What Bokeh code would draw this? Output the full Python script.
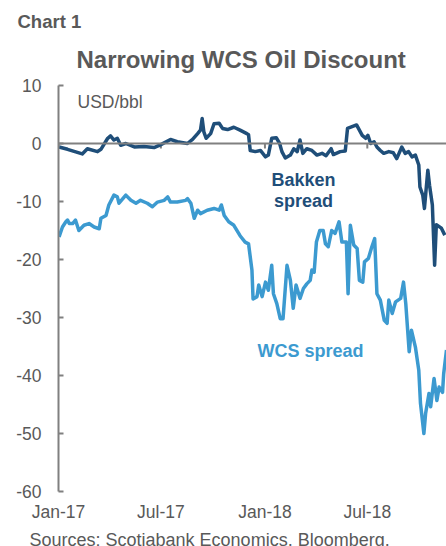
import pandas as pd
from bokeh.plotting import figure
from bokeh.models import (Range1d, FixedTicker, DatetimeTickFormatter, Label, Span,
                          Title, PrintfTickFormatter)
from bokeh.embed import file_html
from bokeh.resources import INLINE

# ---------------- data ----------------
bakken_dates = [
    "2017-01-02", "2017-01-17", "2017-02-12", "2017-02-21", "2017-03-11", "2017-03-17",
    "2017-03-29", "2017-04-03", "2017-04-09", "2017-04-15", "2017-04-21", "2017-04-30",
    "2017-05-15", "2017-06-01", "2017-06-19", "2017-07-01", "2017-07-18", "2017-07-30",
    "2017-08-17", "2017-08-26", "2017-09-04", "2017-09-09", "2017-09-12", "2017-09-15",
    "2017-09-19", "2017-09-27", "2017-10-03", "2017-10-12", "2017-10-18", "2017-10-27",
    "2017-11-07", "2017-11-18", "2017-11-30", "2017-12-03", "2017-12-06", "2017-12-15",
    "2017-12-24", "2018-01-02", "2018-01-07", "2018-01-13", "2018-01-21", "2018-01-27",
    "2018-01-31", "2018-02-06", "2018-02-15", "2018-02-21", "2018-02-27", "2018-03-04",
    "2018-03-09", "2018-03-16", "2018-03-25", "2018-04-03", "2018-04-12", "2018-04-19",
    "2018-04-28", "2018-05-02", "2018-05-14", "2018-05-23", "2018-05-27", "2018-06-04",
    "2018-06-12", "2018-06-17", "2018-06-22", "2018-06-28", "2018-07-02", "2018-07-07",
    "2018-07-13", "2018-07-18", "2018-07-24", "2018-07-30", "2018-08-08", "2018-08-16",
    "2018-08-22", "2018-08-31", "2018-09-06", "2018-09-12", "2018-09-18", "2018-09-24",
    "2018-09-30", "2018-10-02", "2018-10-07", "2018-10-10", "2018-10-16", "2018-10-19",
    "2018-10-24", "2018-10-28", "2018-10-31", "2018-11-09", "2018-11-15",
]
bakken_values = [
    -0.6, -1.0, -1.8, -0.9, -1.4, -1.0,
    0.9, 1.3, 0.6, 0.9, -0.3, 0.0,
    -0.6, -0.5, -0.7, -0.2, 0.7, 0.3,
    0.0, 0.7, 1.7, 2.3, 4.3, 2.0,
    0.9, 1.7, 3.4, 3.5, 2.6, 2.4,
    2.8, 2.3, 1.7, 1.5, -1.2, -1.4,
    -1.2, -2.3, -2.0, 0.9, 1.0, 0.0,
    -1.4, -2.5, -2.0, -0.9, -1.4, 0.6,
    -1.7, -0.9, -1.2, -2.0, -1.7, -2.1,
    -0.9, -1.9, -1.4, -1.3, 2.6, 2.9,
    3.2, 2.3, 1.4, 0.9, 1.4, 0.0,
    0.3, -0.6, -1.2, -1.7, -1.4, -1.6,
    -2.6, -0.6, -1.7, -1.4, -2.3, -2.0,
    -3.7, -7.5, -8.9, -11.2, -4.6, -7.2,
    -10.6, -21.0, -14.0, -14.6, -15.8,
]

wcs_dates = [
    "2017-01-02", "2017-01-08", "2017-01-14", "2017-01-17", "2017-01-20", "2017-01-26",
    "2017-01-31", "2017-02-06", "2017-02-15", "2017-02-24", "2017-03-05", "2017-03-14",
    "2017-03-17", "2017-03-26", "2017-03-31", "2017-04-09", "2017-04-15", "2017-04-18",
    "2017-04-30", "2017-05-09", "2017-05-18", "2017-05-26", "2017-06-07", "2017-06-16",
    "2017-06-25", "2017-07-07", "2017-07-13", "2017-07-18", "2017-07-30", "2017-08-14",
    "2017-08-17", "2017-08-23", "2017-08-29", "2017-09-04", "2017-09-09", "2017-09-21",
    "2017-10-03", "2017-10-12", "2017-10-16", "2017-10-21", "2017-10-29", "2017-11-07",
    "2017-11-18", "2017-11-27", "2017-12-03", "2017-12-09", "2017-12-11", "2017-12-18",
    "2017-12-21", "2017-12-27", "2018-01-02", "2018-01-07", "2018-01-13", "2018-01-16",
    "2018-01-22", "2018-01-28", "2018-02-02", "2018-02-09", "2018-02-15", "2018-02-20",
    "2018-02-25", "2018-03-04", "2018-03-10", "2018-03-16", "2018-03-22", "2018-03-25",
    "2018-03-29", "2018-04-02", "2018-04-08", "2018-04-14", "2018-04-18", "2018-04-23",
    "2018-04-29", "2018-05-05", "2018-05-12", "2018-05-17", "2018-05-25", "2018-05-28",
    "2018-06-01", "2018-06-07", "2018-06-13", "2018-06-17", "2018-06-23", "2018-06-26",
    "2018-07-03", "2018-07-09", "2018-07-14", "2018-07-18", "2018-07-24", "2018-07-31",
    "2018-08-05", "2018-08-08", "2018-08-14", "2018-08-20", "2018-08-29", "2018-09-03",
    "2018-09-07", "2018-09-13", "2018-09-17", "2018-09-24", "2018-09-30", "2018-10-03",
    "2018-10-09", "2018-10-12", "2018-10-18", "2018-10-21", "2018-10-27", "2018-11-01",
    "2018-11-05", "2018-11-11", "2018-11-13", "2018-11-18",
]
wcs_values = [
    -16.1, -14.4, -13.5, -13.2, -13.8, -13.8,
    -13.2, -15.0, -14.1, -13.8, -14.4, -14.7,
    -12.9, -12.4, -10.6, -8.9, -9.2, -10.3,
    -8.9, -9.8, -10.3, -9.8, -10.3, -10.9,
    -10.1, -9.8, -9.2, -10.1, -10.1, -9.8,
    -9.5, -10.3, -12.9, -11.5, -12.1, -11.5,
    -11.2, -11.5, -10.6, -12.4, -13.5, -14.1,
    -15.9, -17.0, -17.3, -21.8, -26.8, -26.4,
    -24.4, -26.4, -23.9, -25.3, -21.0, -25.9,
    -27.6, -30.2, -30.2, -21.0, -23.6, -28.4,
    -24.4, -26.7, -25.0, -24.2, -23.6, -21.8,
    -22.2, -17.0, -15.0, -15.0, -17.3, -17.8,
    -15.0, -15.5, -13.5, -17.0, -17.0, -25.9,
    -14.1, -17.5, -18.1, -23.6, -23.9, -20.4,
    -19.8, -17.8, -16.4, -25.9, -27.0, -30.5,
    -31.0, -27.0, -29.3, -27.3, -26.7, -23.9,
    -27.6, -35.9, -32.2, -35.1, -39.1, -44.8,
    -50.0, -46.6, -43.1, -45.4, -40.5, -44.3,
    -42.0, -42.9, -39.7, -35.6,
]

tick_dates = ["2017-01-01", "2017-07-01", "2018-01-01", "2018-07-01"]
y_ticks = [10, 0, -10, -20, -30, -40, -50, -60]

x_start = "2017-01-01"
x_end = "2018-11-18"

# ---------------- styling ----------------
FONT = "Liberation Sans"
GRAY = "#595959"
AXIS_GRAY = "#808080"
DARK_BLUE = "#1F4E79"
LIGHT_BLUE = "#3C9AD0"

LEFT, RIGHT, TOP, BOTTOM = 58, 0, 85, 70
W = 446
H = 491 + BOTTOM

X0 = pd.Timestamp(x_start).value / 1e6
X1 = pd.Timestamp(x_end).value / 1e6

p = figure(width=W, height=H, x_axis_type="datetime",
           x_range=Range1d(X0, X1), y_range=Range1d(-60, 10),
           output_backend="svg", toolbar_location=None,
           min_border_left=LEFT, min_border_right=RIGHT,
           min_border_top=TOP, min_border_bottom=BOTTOM)
p.xgrid.visible = False
p.ygrid.visible = False
p.outline_line_color = None
p.background_fill_color = "white"
p.border_fill_color = "white"

# canvas-pixel -> data helpers for in-frame annotations
FL, FR, FT, FB = LEFT, W - RIGHT, TOP, H - BOTTOM
def sx(px):
    return X0 + (px - FL) / (FR - FL) * (X1 - X0)
def sy(py):
    return 10 - (py - FT) / (FB - FT) * 70.0

# titles: a thin top spacer (figure title), then "Chart 1", then the main title
p.title.text = " "
p.title.standoff = 0
p.title.text_font = FONT
p.title.text_font_size = "4px"
p.add_layout(Title(text="Narrowing WCS Oil Discount", align="left", offset=76 - FL,
                   standoff=25, text_font=FONT, text_font_size="24px",
                   text_font_style="bold", text_color=GRAY), "above")
p.add_layout(Title(text="Chart 1", align="left", offset=17 - FL, standoff=0,
                   text_font=FONT, text_font_size="18.5px", text_line_height=0.75,
                   text_font_style="bold", text_color=GRAY), "above")

# y axis
ya = p.yaxis[0]
ya.ticker = FixedTicker(ticks=y_ticks)
ya.formatter = PrintfTickFormatter(format="%d")
ya.axis_line_color = AXIS_GRAY
ya.axis_line_width = 2
ya.major_tick_line_color = AXIS_GRAY
ya.major_tick_line_width = 2
ya.major_tick_in = 5
ya.major_tick_out = 0
ya.minor_tick_line_color = None
ya.major_label_standoff = 17
ya.major_label_text_font = FONT
ya.major_label_text_font_size = "17.5px"
ya.major_label_text_color = GRAY

# x axis: labels only at the bottom
tick_ms = [pd.Timestamp(d).value / 1e6 for d in tick_dates]
xa = p.xaxis[0]
xa.ticker = FixedTicker(ticks=tick_ms)
xa.formatter = DatetimeTickFormatter(days="%b-%y", months="%b-%y", years="%b-%y")
xa.axis_line_color = None
xa.major_tick_line_color = None
xa.minor_tick_line_color = None
xa.major_label_standoff = 4
xa.major_label_text_font = FONT
xa.major_label_text_font_size = "17.5px"
xa.major_label_text_color = GRAY

p.add_layout(Title(text="Sources: Scotiabank Economics, Bloomberg.", align="left",
                   offset=29 - FL, standoff=6, text_font=FONT, text_font_size="18px",
                   text_color=GRAY, text_font_style="normal"), "below")

# zero line with ticks
p.add_layout(Span(location=0, dimension="width", line_color=AXIS_GRAY, line_width=2))
p.segment(x0=tick_ms, x1=tick_ms, y0=[0] * len(tick_ms), y1=[-5 / 5.8] * len(tick_ms),
          line_color=AXIS_GRAY, line_width=2)

# series
p.line(x=pd.to_datetime(wcs_dates), y=wcs_values, line_color=LIGHT_BLUE, line_width=3.5,
       line_join="round")
p.line(x=pd.to_datetime(bakken_dates), y=bakken_values, line_color=DARK_BLUE, line_width=3.5,
       line_join="round")

def lab(text, px, py, size, color, bold=False, align="left", baseline="middle"):
    p.add_layout(Label(x=sx(px), y=sy(py), text=text, text_font=FONT,
                       text_font_size=size, text_color=color,
                       text_font_style="bold" if bold else "normal",
                       text_align=align, text_baseline=baseline))

lab("USD/bbl", 77, 101, "17.5px", GRAY)
lab("Bakken", 303, 179, "18px", DARK_BLUE, bold=True, align="center")
lab("spread", 303, 200, "18px", DARK_BLUE, bold=True, align="center")
lab("WCS spread", 310, 350, "18px", LIGHT_BLUE, bold=True, align="center")

open("out.html", "w").write(file_html(p, INLINE))
